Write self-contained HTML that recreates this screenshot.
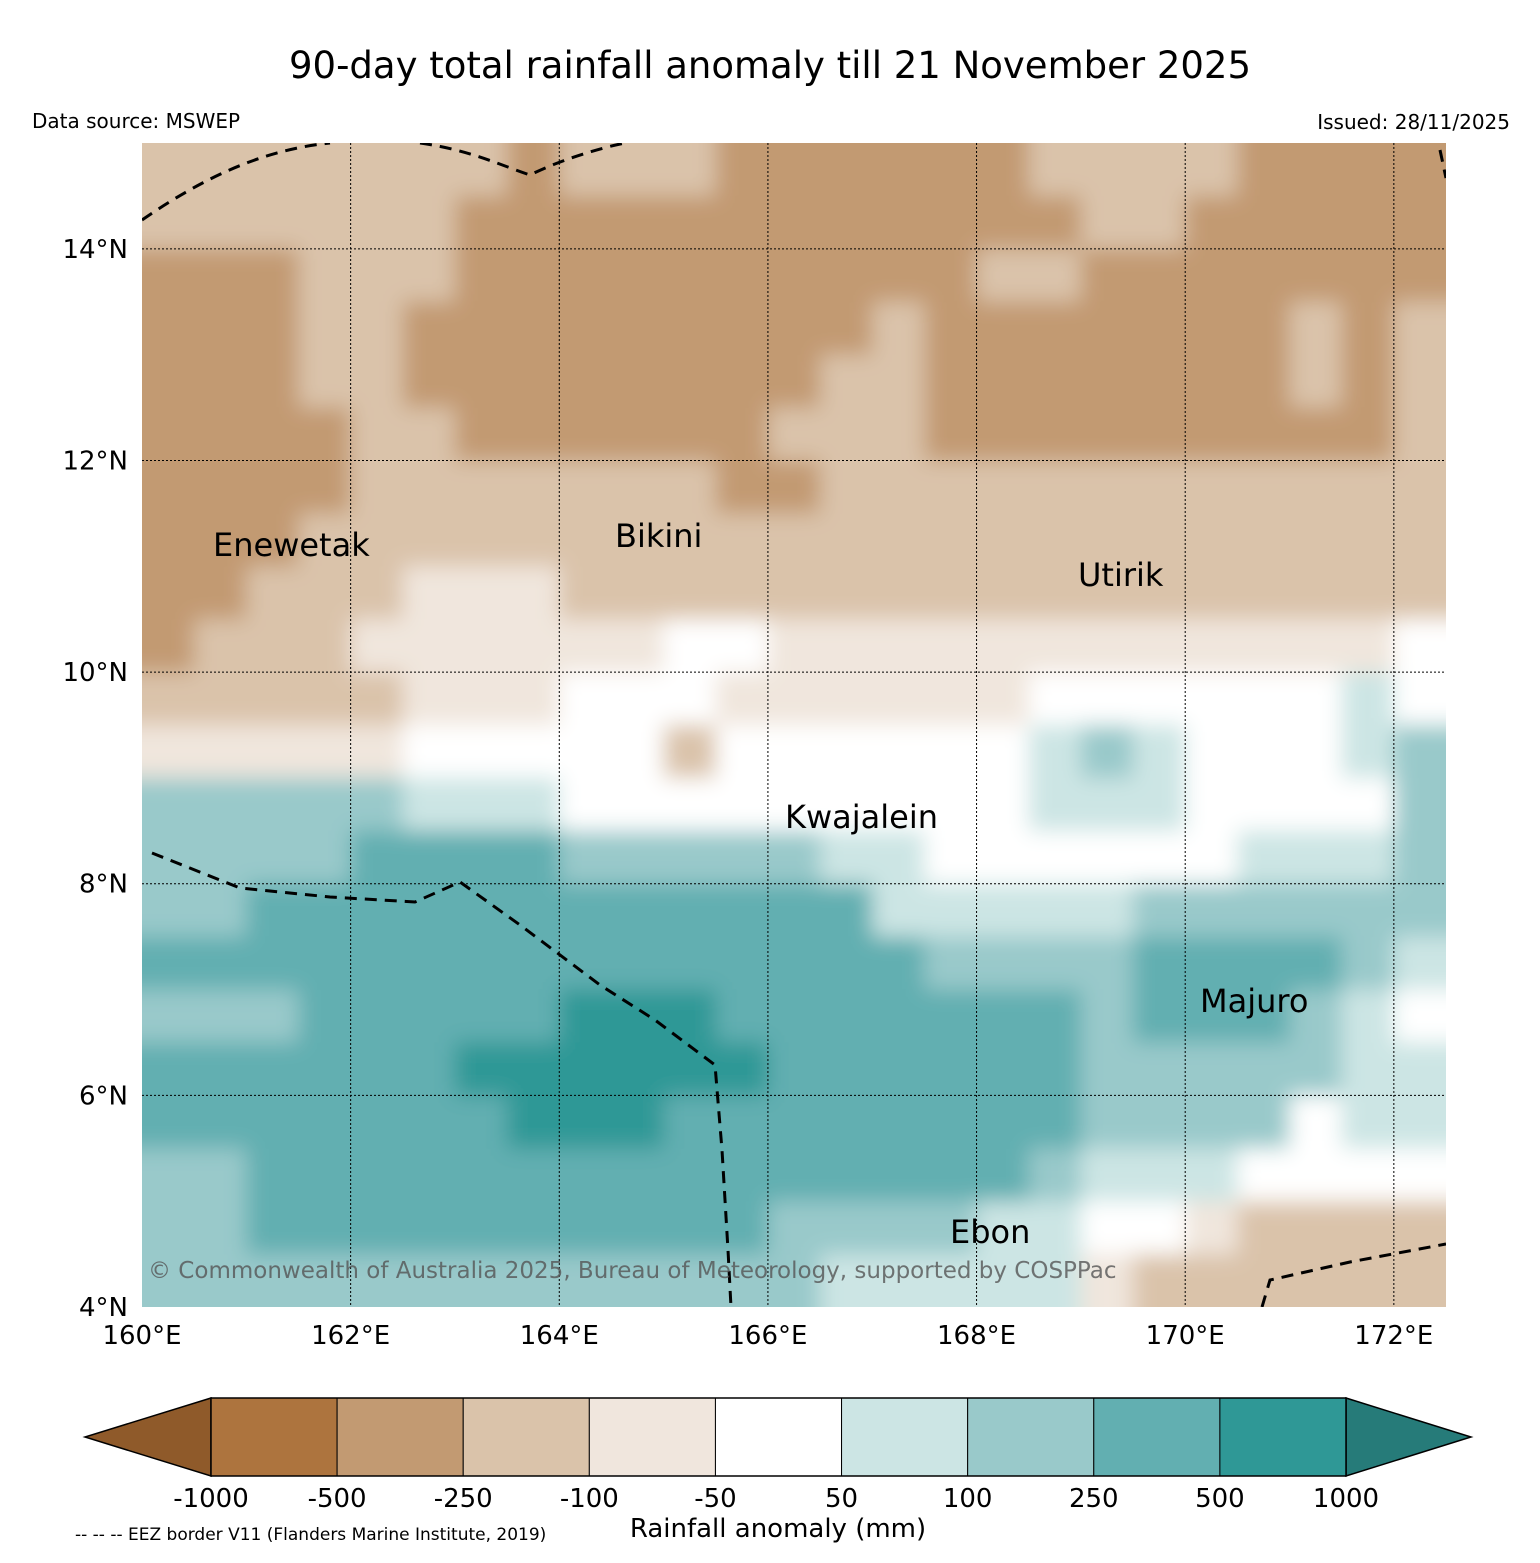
<!DOCTYPE html>
<html><head><meta charset="utf-8"><style>
body{margin:0;background:#fff}
svg{display:block;font-family:"DejaVu Sans","Liberation Sans",sans-serif}
</style></head><body>
<svg id="chart" width="1540" height="1563" viewBox="0 0 1540 1563">
<defs>
<clipPath id="mapclip"><rect x="142" y="143" width="1304" height="1164"/></clipPath>
<filter id="soft" x="-5%" y="-5%" width="110%" height="110%"><feGaussianBlur stdDeviation="11"/></filter>
</defs>
<text x="770" y="78" font-size="37" text-anchor="middle">90-day total rainfall anomaly till 21 November 2025</text>
<text x="32" y="128" font-size="20">Data source: MSWEP</text>
<text x="1510" y="129" font-size="20" text-anchor="end">Issued: 28/11/2025</text>
<g id="cells" clip-path="url(#mapclip)"><g id="cellsInner" filter="url(#soft)"></g></g>
<g id="grid"></g>
<g fill="none" stroke="#000" stroke-width="3" stroke-dasharray="12,8" clip-path="url(#mapclip)">
<path d="M142,220 C200,180 260,150 330,143"/>
<path d="M420,143 C470,150 500,165 530,175 C560,160 600,148 625,143"/>
<path d="M1440,150 L1446,178"/>
<path d="M152,853 L240,888 L330,897 L415,902 L460,882 L520,925 L600,985 L655,1020 L715,1065 L722,1150 L728,1250 L731,1307"/>
<path d="M1262,1307 L1270,1280 L1350,1262 L1446,1244"/>
</g>
<g font-size="32">
<text x="213" y="556">Enewetak</text>
<text x="615" y="547">Bikini</text>
<text x="1078" y="586">Utirik</text>
<text x="785" y="828">Kwajalein</text>
<text x="1200" y="1012">Majuro</text>
<text x="950" y="1243">Ebon</text>
</g>
<text x="148" y="1278" font-size="23" fill="#555" fill-opacity="0.8">© Commonwealth of Australia 2025, Bureau of Meteorology, supported by COSPPac</text>
<g id="axes" font-size="26"></g>
<g id="cbar"></g>
<text x="778" y="1537" font-size="26" text-anchor="middle">Rainfall anomaly (mm)</text>
<text x="75" y="1540" font-size="17">-- -- -- EEZ border V11 (Flanders Marine Institute, 2019)</text>
</svg>
<script>
const levelColors=["#ad743e","#c29a72","#dac3aa","#f0e6dd","#ffffff","#cce5e4","#99c9ca","#62afb1","#2f9896"];
const levelBounds=["-1000","-500","-250","-100","-50","50","100","250","500","1000"];
const lonTicks=[160,162,164,166,168,170,172];
const latTicks=[4,6,8,10,12,14];
// anomaly level index per 0.5° cell, rows from 15N southward, cols from 160E eastward
const r0=[2,2,2,2,2,2,2,1,2,2,2,1,1,1,1,1,1,2,2,2,2,1,1,1,1];
const r1=[2,2,2,2,2,2,1,1,1,1,1,1,1,1,1,1,1,1,2,2,1,1,1,1,1];
const r2=[1,1,1,2,2,2,1,1,1,1,1,1,1,1,1,1,2,2,1,1,1,1,1,1,1];
const r3=[1,1,1,2,2,1,1,1,1,1,1,1,1,1,2,1,1,1,1,1,1,1,2,1,2];
const r4=[1,1,1,2,2,1,1,1,1,1,1,1,1,2,2,1,1,1,1,1,1,1,2,1,2];
const r5=[1,1,1,1,2,2,1,1,1,1,1,1,2,2,2,1,1,1,1,1,1,1,1,1,2];
const r6=[1,1,1,1,2,2,2,2,2,2,2,1,1,2,2,2,2,2,2,2,2,2,2,2,2];
const r7=[1,1,1,2,2,2,2,2,2,2,2,2,2,2,2,2,2,2,2,2,2,2,2,2,2];
const r8=[1,1,2,2,2,3,3,3,2,2,2,2,2,2,2,2,2,2,2,2,2,2,2,2,2];
const r9=[1,2,2,2,3,3,3,3,3,3,4,4,3,3,3,3,3,3,3,3,3,3,3,3,4];
const r10=[2,2,2,2,2,3,3,3,4,4,4,3,3,3,3,3,3,4,4,4,4,4,4,5,4];
const r11=[3,3,3,3,3,4,4,4,4,4,2,4,4,4,4,4,4,5,6,5,4,4,4,5,6];
const r12=[6,6,6,6,6,5,5,5,4,4,4,4,4,4,4,4,4,5,5,5,4,4,4,4,6];
const r13=[6,6,6,6,7,7,7,7,6,6,6,6,6,5,5,4,4,4,4,4,4,5,5,5,6];
const r14=[6,6,7,7,7,7,7,7,7,7,7,7,7,7,5,5,5,5,5,6,6,6,6,6,6];
const r15=[7,7,7,7,7,7,7,7,7,7,7,7,7,7,7,6,6,6,6,7,7,7,7,6,5];
const r16=[6,6,6,7,7,7,7,7,8,8,8,7,7,7,7,7,7,7,6,7,7,7,6,5,4];
const r17=[7,7,7,7,7,7,8,8,8,8,8,8,7,7,7,7,7,7,6,6,6,6,6,5,5];
const r18=[7,7,7,7,7,7,7,8,8,8,7,7,7,7,7,7,7,7,6,6,6,6,4,5,5];
const r19=[6,6,7,7,7,7,7,7,7,7,7,7,7,7,7,7,7,6,5,5,5,4,4,4,4];
const r20=[6,6,7,7,7,7,7,7,7,7,7,7,6,6,6,6,5,5,4,4,3,2,2,2,2];
const r21=[6,6,6,6,6,6,6,6,6,6,6,6,6,5,5,5,5,5,3,2,2,2,2,2,2];
const fieldRows=[r0,r1,r2,r3,r4,r5,r6,r7,r8,r9,r10,r11,r12,r13,r14,r15,r16,r17,r18,r19,r20,r21];

const NS="http://www.w3.org/2000/svg";
const X0=142,X1=1446,Y0=143,Y1=1307;
const xScale=lon=>X0+(lon-160)/12.5*(X1-X0);
const yScale=lat=>Y1-(lat-4)/11*(Y1-Y0);
function mk(tag,attrs,parent){const e=document.createElementNS(NS,tag);for(const k in attrs)e.setAttribute(k,attrs[k]);parent.appendChild(e);return e;}

const cells=document.getElementById('cellsInner');
mk('rect',{x:X0-30,y:Y0-30,width:X1-X0+60,height:Y1-Y0+60,fill:'#dac3aa'},cells);
fieldRows.forEach((row,ri)=>{
  row.forEach((lv,ci)=>{
    const lonA=160+ci*0.5,latA=15-ri*0.5;
    let x=xScale(lonA),y=yScale(latA),w=xScale(lonA+0.5)-x,h=yScale(latA-0.5)-y;
    if(ci===0){x-=30;w+=30;} if(ci===row.length-1)w+=30;
    if(ri===0){y-=30;h+=30;} if(ri===fieldRows.length-1)h+=30;
    const r=mk('rect',{x:x,y:y,width:w+0.5,height:h+0.5,fill:levelColors[lv]},cells);
    
    
  });
});

const grid=document.getElementById('grid');
lonTicks.forEach(l=>{if(l>160){const ln=mk('line',{x1:xScale(l),x2:xScale(l),y1:Y0,y2:Y1,stroke:'#000','stroke-width':1,'stroke-dasharray':'2,2'},grid);}});
latTicks.forEach(l=>{if(l>4){const ln=mk('line',{x1:X0,x2:X1,y1:yScale(l),y2:yScale(l),stroke:'#000','stroke-width':1,'stroke-dasharray':'2,2'},grid);}});

const axes=document.getElementById('axes');
lonTicks.forEach(l=>{const t=mk('text',{x:xScale(l),y:1344,'text-anchor':'middle'},axes);t.textContent=l+'°E';});
latTicks.forEach(l=>{const t=mk('text',{x:128,y:yScale(l)+9,'text-anchor':'end'},axes);t.textContent=l+'°N';});

const cb=document.getElementById('cbar');
const cbX0=211,cbX1=1346,cbY0=1398,cbY1=1476,seg=(cbX1-cbX0)/levelColors.length;
const lt=mk('polygon',{points:`${cbX0},${cbY0} 85,${(cbY0+cbY1)/2} ${cbX0},${cbY1}`,fill:'#8f5a2a',stroke:'#000','stroke-width':1.5},cb);

const rt=mk('polygon',{points:`${cbX1},${cbY0} 1471,${(cbY0+cbY1)/2} ${cbX1},${cbY1}`,fill:'#267b79',stroke:'#000','stroke-width':1.5},cb);

levelColors.forEach((c,i)=>{const r=mk('rect',{x:cbX0+i*seg,y:cbY0,width:seg,height:cbY1-cbY0,fill:c,stroke:'#000','stroke-width':1},cb);});
mk('rect',{x:cbX0,y:cbY0,width:cbX1-cbX0,height:cbY1-cbY0,fill:'none',stroke:'#000','stroke-width':1.5},cb);
levelBounds.forEach((b,i)=>{const t=mk('text',{x:cbX0+i*seg,y:1507,'text-anchor':'middle','font-size':26},cb);t.textContent=b;});
</script>
</body></html>
